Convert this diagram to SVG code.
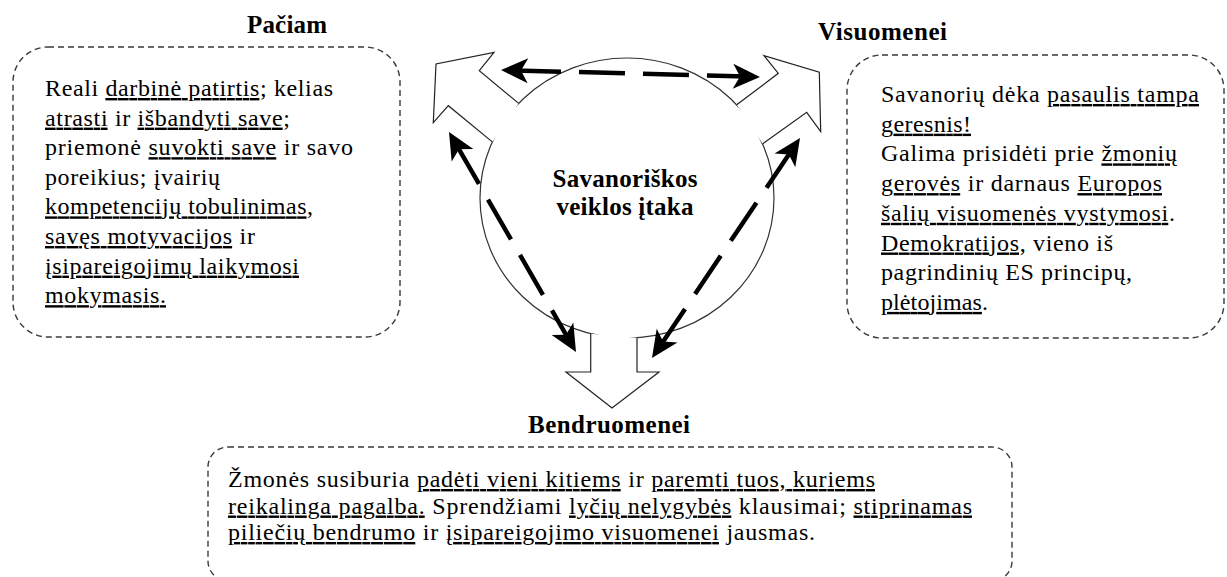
<svg xmlns="http://www.w3.org/2000/svg" width="1227" height="577" viewBox="0 0 1227 577">
<style>
.box{fill:#fff;stroke:#3a3a3a;stroke-width:1.4;stroke-dasharray:6 4}
.t{font-family:"Liberation Serif","Times New Roman",serif;font-size:24px;fill:#000}
.h{font-family:"Liberation Serif","Times New Roman",serif;font-size:25px;font-weight:bold;fill:#000}
.u{text-decoration:underline}
.circ{fill:#fff;stroke:#333;stroke-width:1.2}
.blkf{fill:#fff;stroke:none}
.blkl{fill:none;stroke:#222;stroke-width:1.2;stroke-linejoin:miter}
.dash{fill:none;stroke:#000;stroke-width:4.5;stroke-dasharray:46 18;marker-start:url(#ah);marker-end:url(#ah)}
</style>
<defs>
<marker id="ah" markerUnits="userSpaceOnUse" viewBox="-16 -14 32 28" refX="0" refY="0" markerWidth="32" markerHeight="28" orient="auto-start-reverse"><path d="M14,0 L-13,-12.5 L-6,0 L-13,12.5 Z" fill="#000"/></marker>
</defs>
<rect width="1227" height="577" fill="#fff"/>

<g id="node-paciam">
<rect class="box" x="13" y="47" width="387" height="290" rx="35"/>
<text class="h" x="247" y="33" textLength="80">Pačiam</text>
<text class="t" x="45" y="96" textLength="288">Reali <tspan class="u">darbinė patirtis</tspan>; kelias</text>
<text class="t" x="45" y="125.6" textLength="245"><tspan class="u">atrasti</tspan> ir <tspan class="u">išbandyti save</tspan>;</text>
<text class="t" x="45" y="155.2" textLength="308">priemonė <tspan class="u">suvokti save</tspan> ir savo</text>
<text class="t" x="45" y="184.8" textLength="175">poreikius; įvairių</text>
<text class="t" x="45" y="214.4" textLength="268"><tspan class="u">kompetencijų tobulinimas</tspan>,</text>
<text class="t" x="45" y="244" textLength="210"><tspan class="u">savęs motyvacijos</tspan> ir</text>
<text class="t" x="45" y="273.6" textLength="254"><tspan class="u">įsipareigojimų laikymosi</tspan></text>
<text class="t" x="45" y="303.2" textLength="121"><tspan class="u">mokymasis.</tspan></text>
</g>

<g id="node-visuomenei">
<rect class="box" x="847" y="55" width="377" height="283" rx="35"/>
<text class="h" x="818" y="40" textLength="129">Visuomenei</text>
<text class="t" x="881" y="102" textLength="318">Savanorių dėka <tspan class="u">pasaulis tampa</tspan></text>
<text class="t" x="881" y="131.7" textLength="90"><tspan class="u">geresnis!</tspan></text>
<text class="t" x="881" y="161.4" textLength="296">Galima prisidėti prie <tspan class="u">žmonių</tspan></text>
<text class="t" x="881" y="191.1" textLength="281"><tspan class="u">gerovės</tspan> ir darnaus <tspan class="u">Europos</tspan></text>
<text class="t" x="881" y="220.8" textLength="294"><tspan class="u">šalių visuomenės vystymosi</tspan>.</text>
<text class="t" x="881" y="250.5" textLength="232"><tspan class="u">Demokratijos</tspan>, vieno iš</text>
<text class="t" x="881" y="280.2" textLength="251">pagrindinių ES principų,</text>
<text class="t" x="881" y="309.9" textLength="107"><tspan class="u">plėtojimas</tspan>.</text>
</g>

<g id="node-bendruomenei">
<rect class="box" x="208" y="447" width="804" height="134" rx="20"/>
<text class="h" x="528" y="433" textLength="162">Bendruomenei</text>
<text class="t" x="228" y="487" textLength="647">Žmonės susiburia <tspan class="u">padėti vieni kitiems</tspan> ir <tspan class="u">paremti tuos, kuriems</tspan></text>
<text class="t" x="228" y="513.5" textLength="744"><tspan class="u">reikalinga pagalba.</tspan> Sprendžiami <tspan class="u">lyčių nelygybės</tspan> klausimai; <tspan class="u">stiprinamas</tspan></text>
<text class="t" x="228" y="540" textLength="587"><tspan class="u">piliečių bendrumo</tspan> ir <tspan class="u">įsipareigojimo visuomenei</tspan> jausmas.</text>
</g>

<g id="node-center">
<ellipse class="circ" cx="627" cy="198" rx="147" ry="140"/>
<text class="h" x="625" y="187" text-anchor="middle" textLength="145">Savanoriškos</text>
<text class="h" x="625" y="215" text-anchor="middle" textLength="137">veiklos įtaka</text>
</g>

<g id="connectors">
<g id="block-arrows">
<path class="blkf" d="M518.7,103.4 L479.3,70.7 L494,52.3 L436,64 L433.3,122.7 L448.3,105.7 L492.3,141.9 Z"/>
<path class="blkl" d="M518.7,103.4 L479.3,70.7 L494,52.3 L436,64 L433.3,122.7 L448.3,105.7 L492.3,141.9"/>
<path class="blkf" d="M736.7,104.8 L778.3,73.3 L764,55.7 L819.3,72.3 L820.7,131.7 L806.7,112.3 L762.7,143.8 Z"/>
<path class="blkl" d="M736.7,104.8 L778.3,73.3 L764,55.7 L819.3,72.3 L820.7,131.7 L806.7,112.3 L762.7,143.8"/>
<path class="blkf" d="M590.7,333.7 L590.7,372 L566,372 L612,408 L659,372 L637,372 L637,337.7 Z"/>
<path class="blkl" d="M590.7,333.7 L590.7,372 L566,372 L612,408 L659,372 L637,372 L637,337.7"/>
</g>
<g id="dashed-arrows">
<path class="dash" d="M515,70.4 L746,76.6"/>
<path class="dash" d="M456,144.1 L569,339.9"/>
<path class="dash" d="M792.2,149.6 L659.8,346.4"/>
</g>
</g>
</svg>
